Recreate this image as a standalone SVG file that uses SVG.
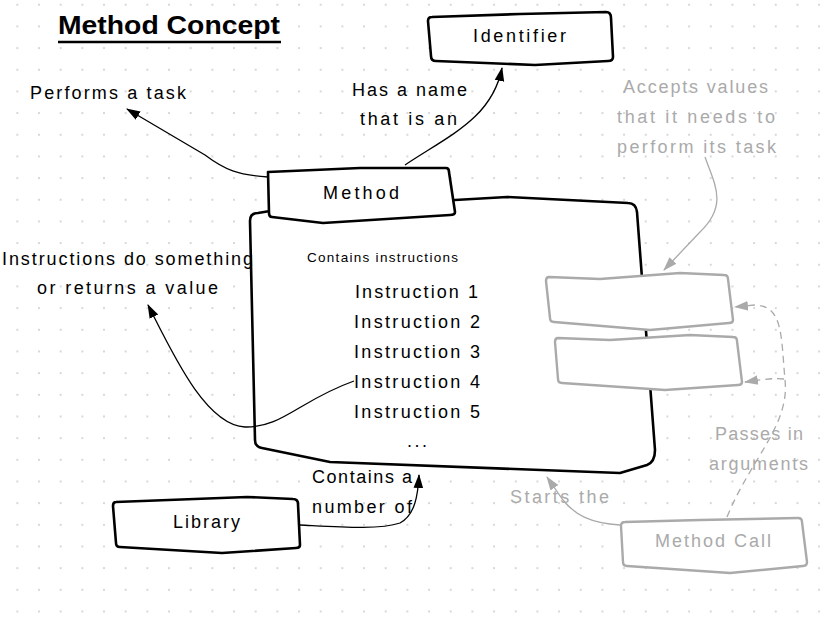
<svg xmlns="http://www.w3.org/2000/svg" width="820" height="628" viewBox="0 0 820 628">
<defs>
<pattern id="dots" patternUnits="userSpaceOnUse" x="6.5" y="-6.1" width="21.67" height="21.67">
<circle cx="10.83" cy="10.83" r="1.1" fill="#cfcfcf"/>
</pattern>
<marker id="ah" markerUnits="userSpaceOnUse" markerWidth="16" markerHeight="12" refX="13" refY="6" orient="auto">
<path d="M0,1.2 L14,6 L0,10.8 Z" fill="#000"/>
</marker>
<marker id="ahg" markerUnits="userSpaceOnUse" markerWidth="16" markerHeight="12" refX="13" refY="6" orient="auto">
<path d="M0,1.2 L14,6 L0,10.8 Z" fill="#aaa"/>
</marker>
</defs>
<style>
.t{font-family:"Liberation Sans","DejaVu Sans",sans-serif;font-size:18px;fill:#000}
.g{fill:#aaa}
.box{fill:#fff;stroke:#000;stroke-width:2.6;stroke-linejoin:round}
.gbox{fill:#fff;stroke:#aaa;stroke-width:2.4;stroke-linejoin:round}
.c{fill:none;stroke:#000;stroke-width:1.3}
.cg{fill:none;stroke:#aaa;stroke-width:1.3}
</style>
<rect width="820" height="628" fill="#fff"/>
<rect width="820" height="628" fill="url(#dots)"/>

<g id="title">
<text class="t" x="58" y="34" style="font-size:26px;font-weight:bold" textLength="222" lengthAdjust="spacingAndGlyphs">Method Concept</text>
<line x1="58" y1="42" x2="281" y2="42" stroke="#000" stroke-width="2.4"/>
</g>

<g id="main">
<path class="box" d="M258,213 Q250,213 250,221 L255,440 Q255,447 262,448 L330,462 L620,473 L647,465 Q655,462 655,450 L637,212 Q636,203 628,203 L507,197 L455,200 L300,206 Z"/>
<text class="t" x="307" y="262" style="font-size:13.5px" textLength="151" lengthAdjust="spacing">Contains instructions</text>
<text class="t" x="355" y="298" textLength="123" lengthAdjust="spacing">Instruction 1</text>
<text class="t" x="354" y="328" textLength="126" lengthAdjust="spacing">Instruction 2</text>
<text class="t" x="354" y="358" textLength="126" lengthAdjust="spacing">Instruction 3</text>
<text class="t" x="354" y="388" textLength="126" lengthAdjust="spacing">Instruction 4</text>
<text class="t" x="354" y="418" textLength="126" lengthAdjust="spacing">Instruction 5</text>
<text class="t" x="407" y="447" textLength="20" lengthAdjust="spacing">...</text>
</g>

<g id="method">
<path class="box" d="M268,172 L360,168 L446,168 Q449,168 449,172 L455,212 Q455,215 450,215 L323,223 L272,217 Q269,217 269,213 Z"/>
<text class="t" x="323" y="199" textLength="76" lengthAdjust="spacing">Method</text>
</g>

<g id="identifier">
<path class="box" d="M432,17 L520,14 L606,12 Q611,12 611,18 L613,57 Q613,61 608,61 L535,65 L436,61 Q431,61 431,56 L428,21 Q428,17 432,17 Z"/>
<text class="t" x="473" y="42" textLength="93" lengthAdjust="spacing">Identifier</text>
</g>

<g id="param1">
<path class="gbox" d="M549,277 L600,279 L680,273 L724,275 Q728,275 728,279 L733,320 Q733,323 729,323 L650,330 L554,322 Q550,322 550,318 L546,281 Q546,277 549,277 Z"/>
</g>
<g id="param2">
<path class="gbox" d="M558,338 L610,340 L690,335 L733,337 Q737,337 737,341 L742,382 Q742,385 738,385 L665,390 L562,383 Q558,383 558,379 L555,342 Q555,338 558,338 Z"/>
</g>

<g id="methodcall">
<path class="gbox" d="M625,522 L700,520 L798,518 Q802,518 802,522 L807,562 Q807,566 803,566 L730,573 L627,566 Q623,566 623,562 L621,526 Q621,522 625,522 Z"/>
<text class="t g" x="655" y="547" textLength="116" lengthAdjust="spacing">Method Call</text>
</g>

<g id="library">
<path class="box" d="M116,502 L247,497 L293,499 Q298,499 298,504 L300,545 Q300,548 296,548 L222,553 L120,547 Q116,547 116,543 L113,506 Q113,502 116,502 Z"/>
<text class="t" x="173" y="528" textLength="67" lengthAdjust="spacing">Library</text>
</g>

<g id="labels">
<text class="t" x="30" y="99" textLength="156" lengthAdjust="spacing">Performs a task</text>
<text class="t" x="352" y="96" textLength="115" lengthAdjust="spacing">Has a name</text>
<text class="t" x="360" y="125" textLength="97" lengthAdjust="spacing">that is an</text>
<text class="t g" x="623" y="93" textLength="145" lengthAdjust="spacing">Accepts values</text>
<text class="t g" x="617" y="123" textLength="158" lengthAdjust="spacing">that it needs to</text>
<text class="t g" x="617" y="153" textLength="159" lengthAdjust="spacing">perform its task</text>
<text class="t" x="2" y="265" textLength="251" lengthAdjust="spacing">Instructions do something</text>
<text class="t" x="37" y="294" textLength="181" lengthAdjust="spacing">or returns a value</text>
<text class="t g" x="715" y="440" textLength="88" lengthAdjust="spacing">Passes in</text>
<text class="t g" x="709" y="470" textLength="99" lengthAdjust="spacing">arguments</text>
<text class="t g" x="510" y="503" textLength="99" lengthAdjust="spacing">Starts the</text>
<text class="t" x="312" y="483" textLength="100" lengthAdjust="spacing">Contains a</text>
<text class="t" x="312" y="513" textLength="100" lengthAdjust="spacing">number of</text>
</g>

<g id="connectors">
<path class="c" d="M268,177 C238,175 225,170 205,155 L127,109" marker-end="url(#ah)"/>
<path class="c" d="M405,165 C450,135 492,118 502,68" marker-end="url(#ah)"/>
<path class="c" d="M354,381 C300,400 282,428 245,427 C205,425 172,352 148,305" marker-end="url(#ah)"/>
<path class="cg" d="M705,157 C715,185 728,205 700,232 L664,270" marker-end="url(#ahg)"/>
<path class="cg" stroke-dasharray="7,5" d="M727,517 C750,460 790,425 785,380 C781,335 783,306 755,305 L735,307" marker-end="url(#ahg)"/>
<path class="cg" stroke-dasharray="7,5" d="M784,379 C775,378 765,379 745,382" marker-end="url(#ahg)"/>
<path class="cg" d="M620,525 C590,523 575,515 563,500 L547,477" marker-end="url(#ahg)"/>
<path class="c" d="M300,525 C340,527 380,530 400,523 C415,515 418,495 419,475" marker-end="url(#ah)"/>
</g>
</svg>
